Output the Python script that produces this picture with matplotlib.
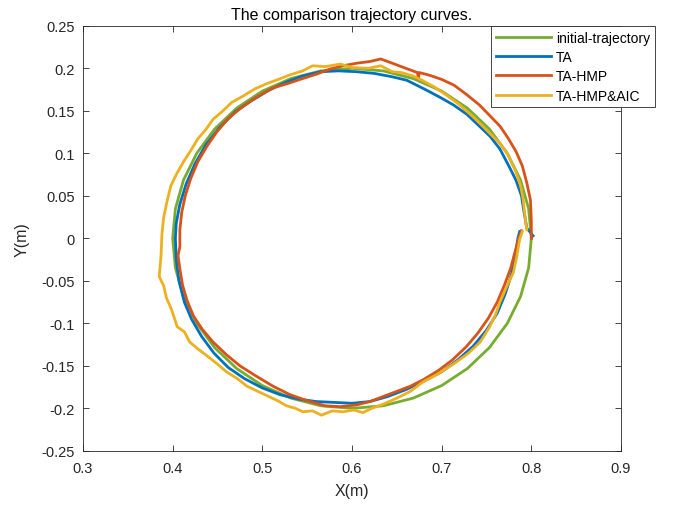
import matplotlib
matplotlib.use("Agg")
import matplotlib.pyplot as plt

plt.rcParams['font.family'] = ['Liberation Sans', 'DejaVu Sans']
plt.rcParams['axes.unicode_minus'] = False

# initial trajectory (circle around (0.6, 0), r = 0.2)
init_x = [0.800, 0.797, 0.788, 0.7732, 0.7532, 0.7286, 0.700, 0.6684, 0.6347, 0.600,
          0.5653, 0.5316, 0.500, 0.4714, 0.4468, 0.4268, 0.412, 0.403, 0.400,
          0.403, 0.412, 0.4268, 0.4468, 0.4714, 0.500, 0.5316, 0.5653, 0.600,
          0.6347, 0.6684, 0.700, 0.7286, 0.7532, 0.7732, 0.788, 0.797, 0.800]
init_y = [0.000, 0.0347, 0.0684, 0.100, 0.1286, 0.1532, 0.1732, 0.1879, 0.197, 0.200,
          0.197, 0.1879, 0.1732, 0.1532, 0.1286, 0.100, 0.0684, 0.0347, 0.000,
          -0.0347, -0.0684, -0.100, -0.1286, -0.1532, -0.1732, -0.1879, -0.197, -0.200,
          -0.197, -0.1879, -0.1732, -0.1532, -0.1286, -0.100, -0.0684, -0.0347, 0.000]

ta_x = [0.802, 0.795, 0.792, 0.789, 0.783, 0.775, 0.765, 0.754, 0.742, 0.728, 0.713,
        0.698, 0.680, 0.661, 0.645, 0.625, 0.605, 0.585, 0.565, 0.545, 0.527, 0.507,
        0.488, 0.470, 0.452, 0.437, 0.425, 0.415, 0.408, 0.404, 0.403, 0.404, 0.407,
        0.413, 0.421, 0.432, 0.446, 0.462, 0.480, 0.500, 0.520, 0.540, 0.560, 0.580,
        0.600, 0.620, 0.640, 0.660, 0.680, 0.700, 0.718, 0.735, 0.750, 0.762, 0.771,
        0.778, 0.782, 0.785, 0.787]
ta_y = [0.003, 0.012, 0.030, 0.050, 0.068, 0.085, 0.105, 0.120, 0.132, 0.146, 0.157,
        0.166, 0.176, 0.186, 0.190, 0.194, 0.196, 0.197, 0.196, 0.191, 0.184, 0.174,
        0.162, 0.149, 0.130, 0.110, 0.088, 0.064, 0.040, 0.018, 0.000, -0.025, -0.050,
        -0.075, -0.095, -0.115, -0.135, -0.152, -0.165, -0.176, -0.184, -0.189, -0.192,
        -0.193, -0.194, -0.192, -0.186, -0.178, -0.168, -0.157, -0.143, -0.127, -0.108,
        -0.088, -0.065, -0.042, -0.020, 0.000, 0.008]

hmp_x = [0.800, 0.800, 0.799, 0.795, 0.790, 0.783, 0.774, 0.765, 0.754, 0.742, 0.728,
         0.714, 0.700, 0.686, 0.675, 0.674, 0.673, 0.660, 0.645, 0.632, 0.620, 0.605,
         0.590, 0.575, 0.560, 0.545, 0.528, 0.512, 0.495, 0.478, 0.462, 0.449, 0.438,
         0.428, 0.420, 0.414, 0.410, 0.408, 0.408, 0.406, 0.408, 0.411, 0.416, 0.423,
         0.433, 0.445, 0.460, 0.475, 0.493, 0.512, 0.531, 0.550, 0.570, 0.587, 0.605,
         0.620, 0.635, 0.650, 0.665, 0.680, 0.697, 0.712, 0.727, 0.740, 0.752, 0.762,
         0.770, 0.777, 0.782, 0.786, 0.789]
hmp_y = [0.000, 0.020, 0.045, 0.065, 0.085, 0.102, 0.118, 0.132, 0.144, 0.157, 0.169,
         0.180, 0.187, 0.192, 0.195, 0.188, 0.195, 0.200, 0.206, 0.211, 0.208, 0.206,
         0.203, 0.199, 0.193, 0.188, 0.182, 0.177, 0.167, 0.155, 0.141, 0.125, 0.108,
         0.090, 0.070, 0.050, 0.030, 0.010, -0.010, -0.020, -0.036, -0.055, -0.073,
         -0.091, -0.107, -0.122, -0.137, -0.150, -0.162, -0.174, -0.184, -0.191, -0.197,
         -0.198, -0.196, -0.192, -0.186, -0.180, -0.174, -0.166, -0.155, -0.143, -0.128,
         -0.112, -0.094, -0.075, -0.055, -0.035, -0.015, 0.000, 0.009]

aic_x = [0.795, 0.793, 0.791, 0.788, 0.782, 0.774, 0.765, 0.755, 0.745, 0.733, 0.720,
         0.706, 0.692, 0.678, 0.668, 0.655, 0.645, 0.632, 0.618, 0.600, 0.587, 0.570,
         0.556, 0.545, 0.530, 0.518, 0.505, 0.492, 0.478, 0.466, 0.455, 0.445, 0.437,
         0.428, 0.420, 0.412, 0.404, 0.398, 0.394, 0.390, 0.388, 0.387, 0.385, 0.390,
         0.393, 0.398, 0.402, 0.405, 0.413, 0.419, 0.428, 0.438, 0.450, 0.460, 0.472,
         0.483, 0.495, 0.505, 0.517, 0.527, 0.537, 0.545, 0.556, 0.566, 0.578, 0.590,
         0.602, 0.612, 0.622, 0.635, 0.650, 0.665, 0.679, 0.695, 0.710, 0.717, 0.730,
         0.743, 0.753, 0.760, 0.765, 0.772, 0.780, 0.784, 0.787, 0.790]
aic_y = [0.010, 0.025, 0.045, 0.062, 0.080, 0.098, 0.112, 0.122, 0.133, 0.145, 0.157,
         0.168, 0.178, 0.186, 0.191, 0.195, 0.196, 0.203, 0.200, 0.201, 0.205, 0.202,
         0.203, 0.197, 0.192, 0.187, 0.182, 0.176, 0.167, 0.160, 0.149, 0.140, 0.128,
         0.117, 0.103, 0.090, 0.075, 0.062, 0.045, 0.025, 0.005, -0.020, -0.045, -0.056,
         -0.070, -0.082, -0.094, -0.104, -0.110, -0.122, -0.130, -0.138, -0.148, -0.157,
         -0.165, -0.174, -0.180, -0.185, -0.191, -0.197, -0.200, -0.204, -0.203, -0.208,
         -0.203, -0.204, -0.202, -0.205, -0.200, -0.195, -0.188, -0.180, -0.169, -0.160,
         -0.150, -0.145, -0.135, -0.122, -0.105, -0.090, -0.075, -0.058, -0.040, -0.020,
         -0.001, 0.008]

labels = ['initial-trajectory', 'TA', 'TA-HMP', 'TA-HMP&AIC']
colors = ['#77AC30', '#0072BD', '#D95319', '#EDB120']

x_ticks = [0.3, 0.4, 0.5, 0.6, 0.7, 0.8, 0.9]
x_tick_labels = ['0.3', '0.4', '0.5', '0.6', '0.7', '0.8', '0.9']
y_ticks = [-0.25, -0.2, -0.15, -0.1, -0.05, 0, 0.05, 0.1, 0.15, 0.2, 0.25]
y_tick_labels = ['-0.25', '-0.2', '-0.15', '-0.1', '-0.05', '0', '0.05', '0.1',
                 '0.15', '0.2', '0.25']

fig = plt.figure(figsize=(6.75, 5.06), dpi=100)
ax = fig.add_axes([0.123, 0.107, 0.797, 0.840])

series = [(init_x, init_y), (ta_x, ta_y), (hmp_x, hmp_y), (aic_x, aic_y)]
for (xs, ys), lab, c in zip(series, labels, colors):
    ax.plot(xs, ys, color=c, lw=2, label=lab, solid_joinstyle='round')

ax.set_xlim(0.3, 0.9)
ax.set_ylim(-0.25, 0.25)
ax.set_xticks(x_ticks, x_tick_labels)
ax.set_yticks(y_ticks, y_tick_labels)
ax.tick_params(direction='in', top=True, right=True, length=4, width=0.6,
               labelsize=10.5, colors='#262626')
ax.tick_params(axis='x', pad=7)
ax.tick_params(axis='y', pad=6)
for sp in ax.spines.values():
    sp.set_linewidth(0.6)
    sp.set_color('#262626')

ax.set_title('The comparison trajectory curves.', fontsize=11.5, color='black', pad=5)
ax.set_xlabel('X(m)', fontsize=11.5, color='#262626', labelpad=6)
ax.set_ylabel('Y(m)', fontsize=11.5, color='#262626', labelpad=8)

leg = ax.legend(loc='upper left', bbox_to_anchor=(0.758, 1.0), fontsize=10,
                handlelength=4.0, handletextpad=0.35, labelspacing=0.38,
                borderpad=0.35, borderaxespad=0, fancybox=False, framealpha=1,
                edgecolor='#262626')
leg.get_frame().set_linewidth(0.6)

fig.savefig('out.png', dpi=100)
